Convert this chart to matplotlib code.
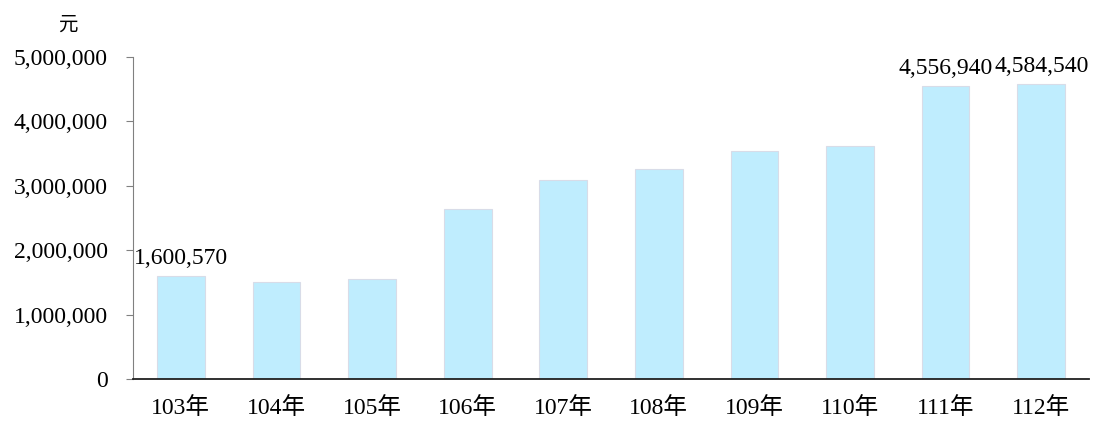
import matplotlib
matplotlib.use("Agg")
import matplotlib.pyplot as plt
from matplotlib.ticker import FuncFormatter

plt.rcParams['font.family'] = ['Liberation Serif', 'Noto Sans CJK TC']

years = ["103年", "104年", "105年", "106年", "107年", "108年", "109年", "110年", "111年", "112年"]
amounts = [1600570, 1510000, 1553000, 2635000, 3085000, 3255000, 3535000, 3625000, 4556940, 4584540]
labeled = [0, 8, 9]  # bars with value labels

fig = plt.figure(figsize=(10.96, 4.21), dpi=100)
ax = fig.add_axes([0.1214, 0.0998, 0.8722, 0.7648])

x = list(range(len(years)))
ax.bar(x, amounts, width=0.5, color='#BFEDFE', edgecolor='#D8DCE8', linewidth=0.8)

for i in labeled:
    ax.text(x[i], amounts[i] + 100000, "{:,}".format(amounts[i]),
            ha='center', va='bottom', fontsize=17)

ax.set_xlim(-0.5, 9.5)
ax.set_ylim(0, 5000000)
ax.set_yticks(range(0, 5000001, 1000000))
ax.yaxis.set_major_formatter(FuncFormatter(lambda v, p: "{:,}".format(int(v))))
ax.set_xticks(x)
ax.set_xticklabels(years)

for s in ['top', 'right']:
    ax.spines[s].set_visible(False)
ax.spines['left'].set_color('#808080')
ax.spines['bottom'].set_color('#202020')
ax.spines['bottom'].set_linewidth(1.3)

ax.tick_params(axis='y', length=5, color='#808080', pad=13, labelsize=17)
ax.tick_params(axis='x', length=0, pad=13, labelsize=17)

fig.text(0.062, 0.94, "元", ha='center', va='center', fontsize=14)

fig.savefig("out.png", dpi=100)
